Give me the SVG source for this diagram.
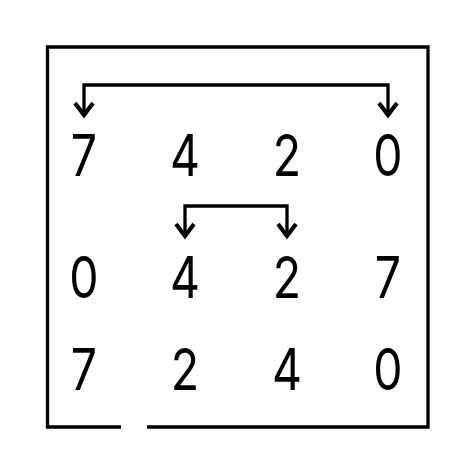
<svg xmlns="http://www.w3.org/2000/svg" width="474" height="474" viewBox="0 0 474 474">
<style>
.d{font-family:Inter,"DejaVu Sans",sans-serif;font-weight:400;font-size:58px;fill:#000;text-anchor:middle}
.ln{fill:none;stroke:#000;stroke-width:3.3;stroke-linecap:butt;stroke-linejoin:miter}
.hd{fill:none;stroke:#000;stroke-width:4.2;stroke-linecap:butt;stroke-linejoin:miter}
</style>
<rect width="474" height="474" fill="#fff"/>
<path class="ln" d="M121,427 H47.5 V47 H428 V427 H147"/>
<g id="connectors">
<path class="ln" d="M84,115 V85 H388 V115"/>
<path class="hd" d="M75,103 L84,115 L93,103 M379,103 L388,115 L397,103"/>
<path class="ln" d="M185,236 V206 H287 V236"/>
<path class="hd" d="M176,224 L185,236 L194,224 M278,224 L287,236 L296,224"/>
</g>
<g id="r1c1"><text class="d" transform="translate(84 176) scale(0.8 1)">7</text></g>
<g id="r1c2"><text class="d" transform="translate(185 176) scale(0.8 1)">4</text></g>
<g id="r1c3"><text class="d" transform="translate(287 176) scale(0.8 1)">2</text></g>
<g id="r1c4"><text class="d" transform="translate(388 176) scale(0.8 1)">0</text></g>
<g id="r2c1"><text class="d" transform="translate(84 298) scale(0.8 1)">0</text></g>
<g id="r2c2"><text class="d" transform="translate(185 298) scale(0.8 1)">4</text></g>
<g id="r2c3"><text class="d" transform="translate(287 298) scale(0.8 1)">2</text></g>
<g id="r2c4"><text class="d" transform="translate(388 298) scale(0.8 1)">7</text></g>
<g id="r3c1"><text class="d" transform="translate(84 390) scale(0.8 1)">7</text></g>
<g id="r3c2"><text class="d" transform="translate(185 390) scale(0.8 1)">2</text></g>
<g id="r3c3"><text class="d" transform="translate(287 390) scale(0.8 1)">4</text></g>
<g id="r3c4"><text class="d" transform="translate(388 390) scale(0.8 1)">0</text></g>
</svg>
